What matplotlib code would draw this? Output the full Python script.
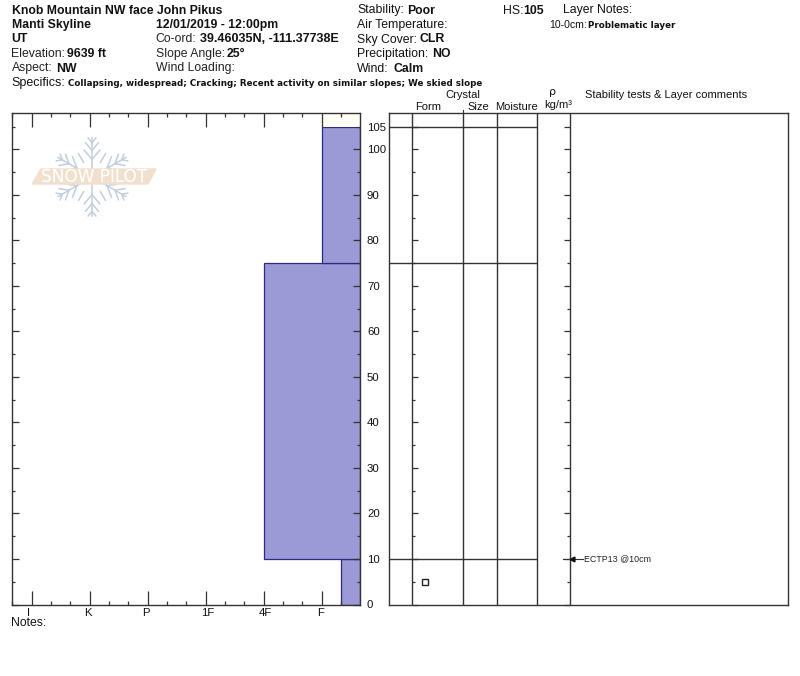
import numpy as np
from matplotlib import pyplot as plt
from matplotlib.lines import Line2D
from matplotlib.patches import Polygon

W, H = 800, 676
plt.rcParams['font.family'] = ['Liberation Sans', 'DejaVu Sans']

# Layer data (depth in cm from ground, hardness index on the I..F scale)
layer_bottom = [0, 10, 75]
layer_top = [10, 75, 105]
layer_hardness = [5.33, 4, 5]
layer_lines = [10, 75, 105]
hardness_labels = ['I', 'K', 'P', '1F', '4F', 'F']
hardness_pos = [0, 1, 2, 3, 4, 5]
hardness_label_shift = [-3.5, -1.5, -1.5, 1.5, 1.5, -1.5]
depth_major = [0, 10, 20, 30, 40, 50, 60, 70, 80, 90, 100, 105]
depth_minor = [5, 15, 25, 35, 45, 55, 65, 75, 85, 95]
crystal_depth = [5]
test_depth = [10]
test_labels = ['ECTP13 @10cm']

col_lines = [411.5, 463.3, 497, 537.3, 569.7]

fig = plt.figure(figsize=(W / 100, H / 100), dpi=100)


def px(x, y):
    return x / W, 1 - y / H


def add_ax(x0, x1, y_top=113, y_bot=604.5):
    return fig.add_axes([x0 / W, 1 - y_bot / H, (x1 - x0) / W, (y_bot - y_top) / H])


def txt(x, y, s, size=8.8, weight='normal', **kw):
    kw.setdefault('va', 'center')
    kw.setdefault('color', '#111111')
    fig.text(*px(x, y), s, fontsize=size, fontweight=weight, **kw)


def fline(xs, ys, color='#c3cfda', lw=1.1, zorder=3):
    fx = [x / W for x in xs]
    fy = [1 - y / H for y in ys]
    fig.add_artist(Line2D(fx, fy, color=color, lw=lw, zorder=zorder))


y_max = 108
dark = '#333333'

# Hardness profile
ax = add_ax(12, 360)
ax.set_xlim(-0.34, 5.66)
ax.set_ylim(0, y_max)
ax.barh(layer_bottom, [5.66 - h for h in layer_hardness], left=layer_hardness,
        height=[t - b for t, b in zip(layer_top, layer_bottom)], align='edge',
        color='#9b99d6', edgecolor='#2d2b80', linewidth=0.9)
ax.barh([layer_top[-1]], [0.66], left=[5], height=[y_max - layer_top[-1]], align='edge',
        color='#fffef4', linewidth=0)
ax.set_xticks(hardness_pos)
ax.set_xticklabels([])
ax.set_xticks([p for p in np.arange(-1, 17) / 3 if round(p * 3) % 3 != 0], minor=True)
ax.tick_params(axis='x', which='major', direction='in', top=True, bottom=True,
               length=10, width=0.9, color=dark)
ax.tick_params(axis='x', which='minor', direction='in', top=True, bottom=True,
               length=3, width=0.9, color=dark)
ax.set_yticks(depth_major)
ax.set_yticks(depth_minor, minor=True)
ax.tick_params(axis='y', which='major', direction='in', left=True, right=True, labelright=True,
               labelleft=False, length=5, width=0.9, color=dark, pad=5, labelsize=8.2,
               labelcolor='#111111')
ax.tick_params(axis='y', which='minor', direction='in', left=True, right=True,
               length=2.5, width=0.9, color=dark)
for side in ax.spines.values():
    side.set_color(dark)
    side.set_linewidth(1.0)
for tick in ax.yaxis.get_major_ticks()[-1:]:
    tick.tick1line.set_markersize(2.5)
    tick.tick2line.set_markersize(2.5)
for pos, lab, shift in zip(hardness_pos, hardness_labels, hardness_label_shift):
    tx, _ = ax.transData.transform((pos, 0))
    txt(tx + shift, 612.5, lab, size=8.2, ha='center')

# Layer table
ax2 = add_ax(389, 788)
ax2.set_xlim(389, 788)
ax2.set_ylim(0, y_max)
ax2.set_xticks([])
ax2.set_yticks([])
for x in col_lines:
    ax2.axvline(x, color=dark, lw=1.0)
ax2.hlines(layer_lines, 389, col_lines[3], color=dark, lw=1.0)
ax2.plot([424.7] * len(crystal_depth), crystal_depth, 's', ms=4.3, mfc='white', mec='#222222', mew=1.0)
for side in ax2.spines.values():
    side.set_color(dark)
    side.set_linewidth(1.0)
for d, lab in zip(test_depth, test_labels):
    ax2.plot([563, 583], [d, d], color=dark, lw=0.8)
    ax2.plot([571.5], [d], '<', ms=3.5, color='#111111')
    ax2.text(584.5, d, lab, fontsize=6.4, va='center', color='#222222')
fline([col_lines[1]] * 2, [110, 113], color=dark, lw=0.8)

# Depth ticks on the form and density columns
ax3 = add_ax(col_lines[0], col_lines[4])
ax3.patch.set_alpha(0)
ax3.set_xticks([])
ax3.set_ylim(0, y_max)
ax3.set_yticks(depth_major)
ax3.set_yticks(depth_minor, minor=True)
ax3.set_yticklabels([])
ax3.tick_params(axis='y', which='major', direction='in', left=True, right=True, length=4.5, width=0.9, color=dark)
ax3.tick_params(axis='y', which='minor', direction='in', left=True, right=True, length=2.5, width=0.9, color=dark)
for side in ax3.spines.values():
    side.set_visible(False)

# Header
txt(11.5, 10.5, 'Knob Mountain NW face John Pikus', weight='bold')
txt(11.5, 25, 'Manti Skyline', weight='bold')
txt(11.5, 39.5, 'UT', weight='bold')
txt(11.5, 54, 'Elevation:', color='#222222')
txt(67, 54, '9639 ft', weight='bold')
txt(11.5, 68.5, 'Aspect:', color='#222222')
txt(56.5, 68.5, 'NW', weight='bold')
txt(155.5, 25, '12/01/2019 - 12:00pm', weight='bold')
txt(155.5, 39.5, 'Co-ord:', color='#222222')
txt(200, 39.5, '39.46035N, -111.37738E', size=9, weight='bold')
txt(155.5, 54, 'Slope Angle:', color='#222222')
txt(226.5, 54, '25°', weight='bold')
txt(155.5, 68.5, 'Wind Loading:', color='#222222')
txt(357, 10.5, 'Stability:')
txt(407.5, 10.5, 'Poor', weight='bold')
txt(357, 25, 'Air Temperature:')
txt(357, 39.5, 'Sky Cover:')
txt(419, 39.5, 'CLR', weight='bold')
txt(357, 54, 'Precipitation:')
txt(432, 54, 'NO', weight='bold')
txt(357, 68.5, 'Wind:')
txt(393.5, 68.5, 'Calm', weight='bold')
txt(503, 10.5, 'HS:')
txt(523, 10.5, '105', weight='bold')
txt(563, 10.5, 'Layer Notes:')
txt(549, 25.5, '10-0cm:', size=7.6)
txt(588, 25.5, 'Problematic layer', size=6.35, weight='bold', family='DejaVu Sans')
txt(11.5, 83, 'Specifics:', size=9)
txt(68, 83.5, 'Collapsing, widespread; Cracking; Recent activity on similar slopes; We skied slope',
    size=6.33, weight='bold', family='DejaVu Sans')
txt(11, 623.5, 'Notes:', size=8.8)

# Column headings
txt(445.5, 95, 'Crystal', size=8)
txt(415, 106.5, 'Form', size=8)
txt(467, 106.5, 'Size', size=8)
txt(495, 106.5, 'Moisture', size=8)
txt(548.5, 92, 'ρ', size=8, family='DejaVu Sans')
txt(544, 105.5, 'kg/m³', size=8)
txt(585, 95, 'Stability tests & Layer comments', size=8)

# Snow Pilot watermark
cx, cy, arm = 92, 177, 39
for ang in np.radians([90, 30, -30, -90, -150, 150]):
    ux, uy = np.cos(ang), -np.sin(ang)
    fline([cx, cx + arm * ux], [cy, cy + arm * uy])
    for r, b in [(0.45, 12), (0.68, 10), (0.88, 6)]:
        for turn in (np.radians(40), -np.radians(40)):
            bx = ux * np.cos(turn) - uy * np.sin(turn)
            by = ux * np.sin(turn) + uy * np.cos(turn)
            sx, sy = cx + arm * r * ux, cy + arm * r * uy
            fline([sx, sx + b * bx], [sy, sy + b * by])
for ang in np.radians([120, 60, -60, -120]):
    ux, uy = np.cos(ang), -np.sin(ang)
    fline([cx + 17 * ux, cx + 27 * ux], [cy + 17 * uy, cy + 27 * uy])
fig.add_artist(Polygon([px(32, 184), px(41, 169), px(156, 169), px(148, 184)],
                       closed=True, transform=fig.transFigure, color='#f2e0cf', zorder=4))
fig.text(*px(94, 176.5), 'SNOW PILOT', fontsize=12.2, color='white', ha='center', va='center',
         family='DejaVu Sans', zorder=5)

fig.savefig('out.png', dpi=100)
